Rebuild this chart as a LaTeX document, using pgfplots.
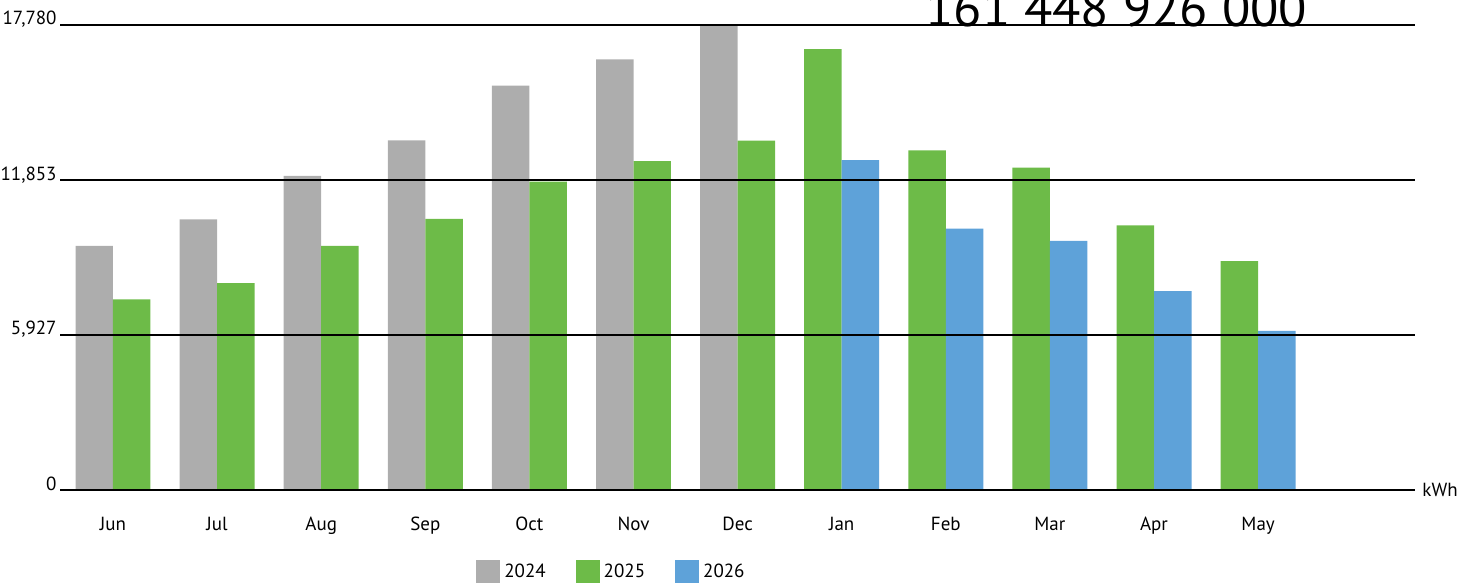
\documentclass[border=0pt]{standalone}
\usepackage{pgfplots}
\pgfplotsset{compat=1.18}
\usepackage{fontspec}
\setmainfont{PT Sans}
\definecolor{cgray}{HTML}{ADADAD}
\definecolor{cgreen}{HTML}{6DBB48}
\definecolor{cblue}{HTML}{5EA2D9}
\begin{document}
\begin{tikzpicture}
\path[use as bounding box] (0pt,0pt) rectangle (735.5pt,291.5pt);
\begin{axis}[
  at={(30pt,46.5pt)}, anchor=south west,
  scale only axis, width=677.5pt, height=232.5pt,
  ybar, bar width=0.36, bar shift=0pt,
  legend image code/.code={\fill[#1] (0pt,-6pt) rectangle (12pt,6pt);},
  xmin=-0.509, xmax=12.507, ymin=0, ymax=17780,
  xtick={0,...,11},
  xticklabels={Jun,Jul,Aug,Sep,Oct,Nov,Dec,Jan,Feb,Mar,Apr,May},
  ytick={0,5927,11853,17780},
  yticklabels={0,{5,927},{11,853},{17,780}},
  scaled y ticks=false,
  major tick length=0pt,
  axis line style={draw=none},
  ymajorgrids, grid style={black, line width=1.1pt},
  axis on top,
  tick label style={font=\fontsize{9.5}{11}\selectfont},
  yticklabel style={anchor=base east, inner sep=0pt, xshift=-1.5pt},
  xticklabel style={anchor=base, yshift=-20pt},
  legend style={draw=none, fill=none, at={(0.4077,-0.176)}, anchor=center,
    font=\fontsize{9.5}{11}\selectfont,
    /tikz/every even column/.append style={column sep=13pt}},
  legend columns=3,
  clip=false,
]
\addplot[fill=cgray, draw=none] coordinates {
 (-0.18,9338) (0.82,10348) (1.82,12011) (2.82,13365) (3.82,15460) (4.82,16462) (5.82,17780)};
\addlegendentry{2024}
\addplot[fill=cgreen, draw=none] coordinates {
 (0.18,7289) (1.18,7908) (2.18,9338) (3.18,10363) (4.18,11793) (5.18,12577) (6.18,13357)
 (6.82,16853) (7.82,12983) (8.82,12325) (9.82,10115) (10.82,8753)};
\addlegendentry{2025}
\addplot[fill=cblue, draw=none] coordinates {
 (7.18,12615) (8.18,9992) (9.18,9530) (10.18,7606) (11.18,6084)};
\addlegendentry{2026}
\node[anchor=west, inner sep=0pt, xshift=3.5pt, font=\fontsize{9.5}{11}\selectfont] at (rel axis cs:1,0) {kWh};
\end{axis}
\node[anchor=base west, inner sep=0pt, font=\fontsize{26}{30}\selectfont] at (462.5pt,278pt) {161 448 926 000};
\end{tikzpicture}
\end{document}
